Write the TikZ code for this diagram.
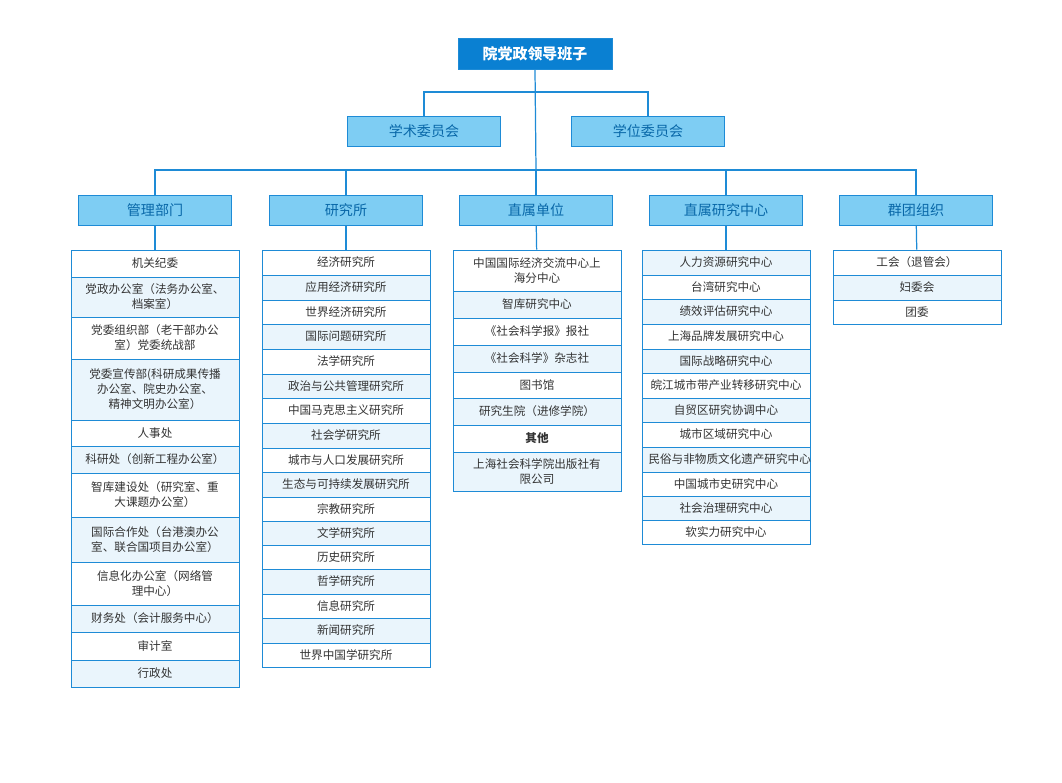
\documentclass[tikz,border=0pt]{standalone}
\usepackage{fontspec}
\setmainfont{Noto Sans CJK SC}
\usetikzlibrary{positioning}
\definecolor{lineblue}{HTML}{1E8BD6}
\definecolor{headblue}{HTML}{0A80D2}
\definecolor{midblue}{HTML}{7ECDF3}
\definecolor{paleblue}{HTML}{EAF5FC}
\definecolor{txtgray}{HTML}{333333}
\tikzset{
  conn/.style={draw=lineblue, line width=0.7pt},
  leadbox/.style={draw=lineblue, fill=headblue, text=white, font=\fontsize{8.5}{10}\selectfont\bfseries,
    minimum width=3.08cm, minimum height=0.62cm, inner sep=0pt},
  groupbox/.style={draw=lineblue, fill=midblue, text=headblue!80!black, font=\fontsize{8}{10}\selectfont,
    minimum width=3.06cm, minimum height=0.6cm, inner sep=0pt},
  cell/.style={draw=lineblue, line width=0.5pt, text=txtgray, font=\fontsize{6.6}{8.6}\selectfont,
    minimum width=3.36cm, text width=3.1cm, align=center, inner sep=0pt}
}
\begin{document}
\begin{tikzpicture}[x=0.02cm, y=-0.02cm]
\useasboundingbox (0,0) rectangle (1062,782);

% top levels
\node[leadbox] (lead) at (535,53.5) {院党政领导班子};
\node[groupbox] (xueshu) at (424,131) {学术委员会};
\node[groupbox] (xuewei) at (648,131) {学位委员会};
\node[groupbox] (guanli) at (155,210) {管理部门};
\node[groupbox] (yanjiusuo) at (346,210) {研究所};
\node[groupbox] (zhishu) at (536,210) {直属单位};
\node[groupbox] (zhongxin) at (726,210) {直属研究中心};
\node[groupbox] (quntuan) at (916,210) {群团组织};

\coordinate (split1) at (536,92);
\coordinate (split2) at (536,170);

\draw[conn] (lead.south) -- (split2);
\draw[conn] (split1) -| (xueshu.north);
\draw[conn] (split1) -| (xuewei.north);
\foreach \g in {guanli,yanjiusuo,zhishu,zhongxin,quntuan}
  \draw[conn] (split2) -| (\g.north);

% lists
\foreach \t/\b/\f/\txt [count=\i] in {
  250/277/white/机关纪委,
  277/317/paleblue/党政办公室（法务办公室、\\档案室）,
  317/359/white/党委组织部（老干部办公\\室）党委统战部,
  359/420/paleblue/党委宣传部(科研成果传播\\办公室、院史办公室、\\精神文明办公室）,
  420/446/white/人事处,
  446/473/paleblue/科研处（创新工程办公室）,
  473/517/white/智库建设处（研究室、重\\大课题办公室）,
  517/562/paleblue/国际合作处（台港澳办公\\室、联合国项目办公室）,
  562/605/white/信息化办公室（网络管\\理中心）,
  605/632/paleblue/财务处（会计服务中心）,
  632/660/white/审计室,
  660/687/paleblue/行政处}
  \node[cell, fill=\f, minimum height={(\b-\t)*0.02cm}] (gl-\i) at (155,{(\t+\b)/2}) {\txt};

\foreach \t/\b/\f/\txt [count=\i] in {
  250/275/white/经济研究所, 275/300/paleblue/应用经济研究所,
  300/324/white/世界经济研究所, 324/349/paleblue/国际问题研究所,
  349/374/white/法学研究所, 374/398/paleblue/政治与公共管理研究所,
  398/423/white/中国马克思主义研究所, 423/448/paleblue/社会学研究所,
  448/472/white/城市与人口发展研究所, 472/497/paleblue/生态与可持续发展研究所,
  497/521/white/宗教研究所, 521/545/paleblue/文学研究所,
  545/569/white/历史研究所, 569/594/paleblue/哲学研究所,
  594/618/white/信息研究所, 618/643/paleblue/新闻研究所,
  643/667/white/世界中国学研究所}
  \node[cell, fill=\f, minimum height={(\b-\t)*0.02cm}] (yj-\i) at (346,{(\t+\b)/2}) {\txt};

\foreach \t/\b/\f/\txt [count=\i] in {
  250/291/white/中国国际经济交流中心上\\海分中心,
  291/318/paleblue/智库研究中心,
  318/345/white/《社会科学报》报社,
  345/372/paleblue/《社会科学》杂志社,
  372/398/white/图书馆,
  398/425/paleblue/研究生院（进修学院）,
  425/452/white/\textbf{其他},
  452/491/paleblue/上海社会科学院出版社有\\限公司}
  \node[cell, fill=\f, minimum height={(\b-\t)*0.02cm}] (zs-\i) at (537,{(\t+\b)/2}) {\txt};

\foreach \t/\b/\f/\txt [count=\i] in {
  250/275/paleblue/人力资源研究中心, 275/299/white/台湾研究中心,
  299/324/paleblue/绩效评估研究中心, 324/349/white/上海品牌发展研究中心,
  349/373/paleblue/国际战略研究中心, 373/398/white/皖江城市带产业转移研究中心,
  398/422/paleblue/自贸区研究协调中心, 422/447/white/城市区域研究中心,
  447/472/paleblue/民俗与非物质文化遗产研究中心, 472/496/white/中国城市史研究中心,
  496/520/paleblue/社会治理研究中心, 520/544/white/软实力研究中心}
  \node[cell, fill=\f, minimum height={(\b-\t)*0.02cm}] (zx-\i) at (726,{(\t+\b)/2}) {\txt};

\foreach \t/\b/\f/\txt [count=\i] in {
  250/275/white/工会（退管会）, 275/300/paleblue/妇委会, 300/324/white/团委}
  \node[cell, fill=\f, minimum height={(\b-\t)*0.02cm}] (qt-\i) at (917,{(\t+\b)/2}) {\txt};

\draw[conn] (guanli) -- (gl-1);
\draw[conn] (yanjiusuo) -- (yj-1);
\draw[conn] (zhishu) -- (zs-1);
\draw[conn] (zhongxin) -- (zx-1);
\draw[conn] (quntuan) -- (qt-1);
\end{tikzpicture}
\end{document}
